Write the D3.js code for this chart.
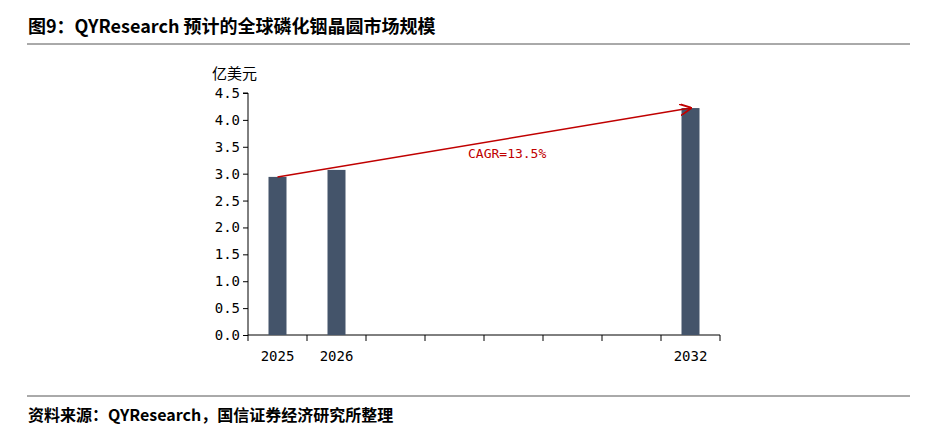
<!DOCTYPE html>
<html><head><meta charset="utf-8">
<script src="https://cdn.jsdelivr.net/npm/d3@7/dist/d3.min.js"></script>
<style>body{margin:0;background:#fff;font-family:"Noto Sans CJK SC","DejaVu Sans",sans-serif}</style>
</head><body>
<script>
const years = ["2025","2026","2027","2028","2029","2030","2031","2032"];
const shownYears = ["2025","2026","2032"];
const values = [2.94, 3.07, 4.22];
const yTicks = [0,0.5,1,1.5,2,2.5,3,3.5,4,4.5];
const cagrLabel = "CAGR=13.5%";

const W = 932, H = 438;
const svg = d3.select("body").append("svg").attr("width", W).attr("height", H);

svg.append("text").attr("x", 28).attr("y", 33).attr("font-size", 18).attr("font-weight", "bold")
   .text("图9：QYResearch 预计的全球磷化铟晶圆市场规模");
svg.append("line").attr("x1", 27).attr("x2", 910).attr("y1", 44).attr("y2", 44).attr("stroke", "#555");
svg.append("line").attr("x1", 27).attr("x2", 910).attr("y1", 396).attr("y2", 396).attr("stroke", "#555");
svg.append("text").attr("x", 28).attr("y", 421).attr("font-size", 16).attr("font-weight", "bold")
   .text("资料来源：QYResearch，国信证券经济研究所整理");

const x = d3.scaleBand().domain(years).range([248, 720]).paddingInner(0).paddingOuter(0);
const y = d3.scaleLinear().domain([0, 4.5]).range([335, 93]);

// axes
svg.append("g").attr("transform", "translate(248,0)")
   .call(d3.axisLeft(y).tickValues(yTicks).tickFormat(d3.format(".1f")).tickSize(5))
   .call(g => g.selectAll("text").attr("font-size", 14).attr("fill", "#000").attr("font-family", "DejaVu Sans Mono"))
   .call(g => g.select(".domain").attr("d", "M-5,93H0V335"));
const xg = svg.append("g").attr("transform", "translate(0,335)");
xg.append("line").attr("x1", 248).attr("x2", 720).attr("stroke", "#000");
xg.selectAll(".t").data(d3.range(years.length + 1)).join("line")
  .attr("x1", i => 248 + i * x.bandwidth()).attr("x2", i => 248 + i * x.bandwidth())
  .attr("y1", 0).attr("y2", 6).attr("stroke", "#000");
xg.selectAll("text").data(shownYears).join("text")
  .attr("x", d => x(d) + x.bandwidth() / 2).attr("y", 26).attr("text-anchor", "middle")
  .attr("font-size", 14).attr("font-family", "DejaVu Sans Mono").text(d => d);

svg.append("text").attr("x", 212).attr("y", 79).attr("font-size", 15).text("亿美元");

// bars
svg.selectAll(".bar").data(values).join("rect")
  .attr("x", (d, i) => x(shownYears[i]) + x.bandwidth() / 2 - 9)
  .attr("width", 18)
  .attr("y", d => y(d)).attr("height", d => y(0) - y(d))
  .attr("fill", "#44546a");

// CAGR arrow
svg.append("defs").append("marker").attr("id", "ah").attr("viewBox", "0 0 10 10")
  .attr("refX", 9).attr("refY", 5).attr("markerWidth", 8).attr("markerHeight", 8).attr("orient", "auto")
  .append("path").attr("d", "M0,0L10,5L0,10").attr("fill", "none").attr("stroke", "#c00000").attr("stroke-width", 1.5);
const x0 = x(shownYears[0]) + x.bandwidth() / 2, x1 = x(shownYears[2]) + x.bandwidth() / 2;
svg.append("line").attr("x1", x0).attr("y1", y(values[0])).attr("x2", x1).attr("y2", y(values[2]))
  .attr("stroke", "#c00000").attr("stroke-width", 1.5).attr("marker-end", "url(#ah)");
svg.append("text").attr("x", 468).attr("y", 158).attr("font-size", 13).attr("fill", "#c00000")
  .attr("font-family", "DejaVu Sans Mono").text(cagrLabel);
</script>
</body></html>
